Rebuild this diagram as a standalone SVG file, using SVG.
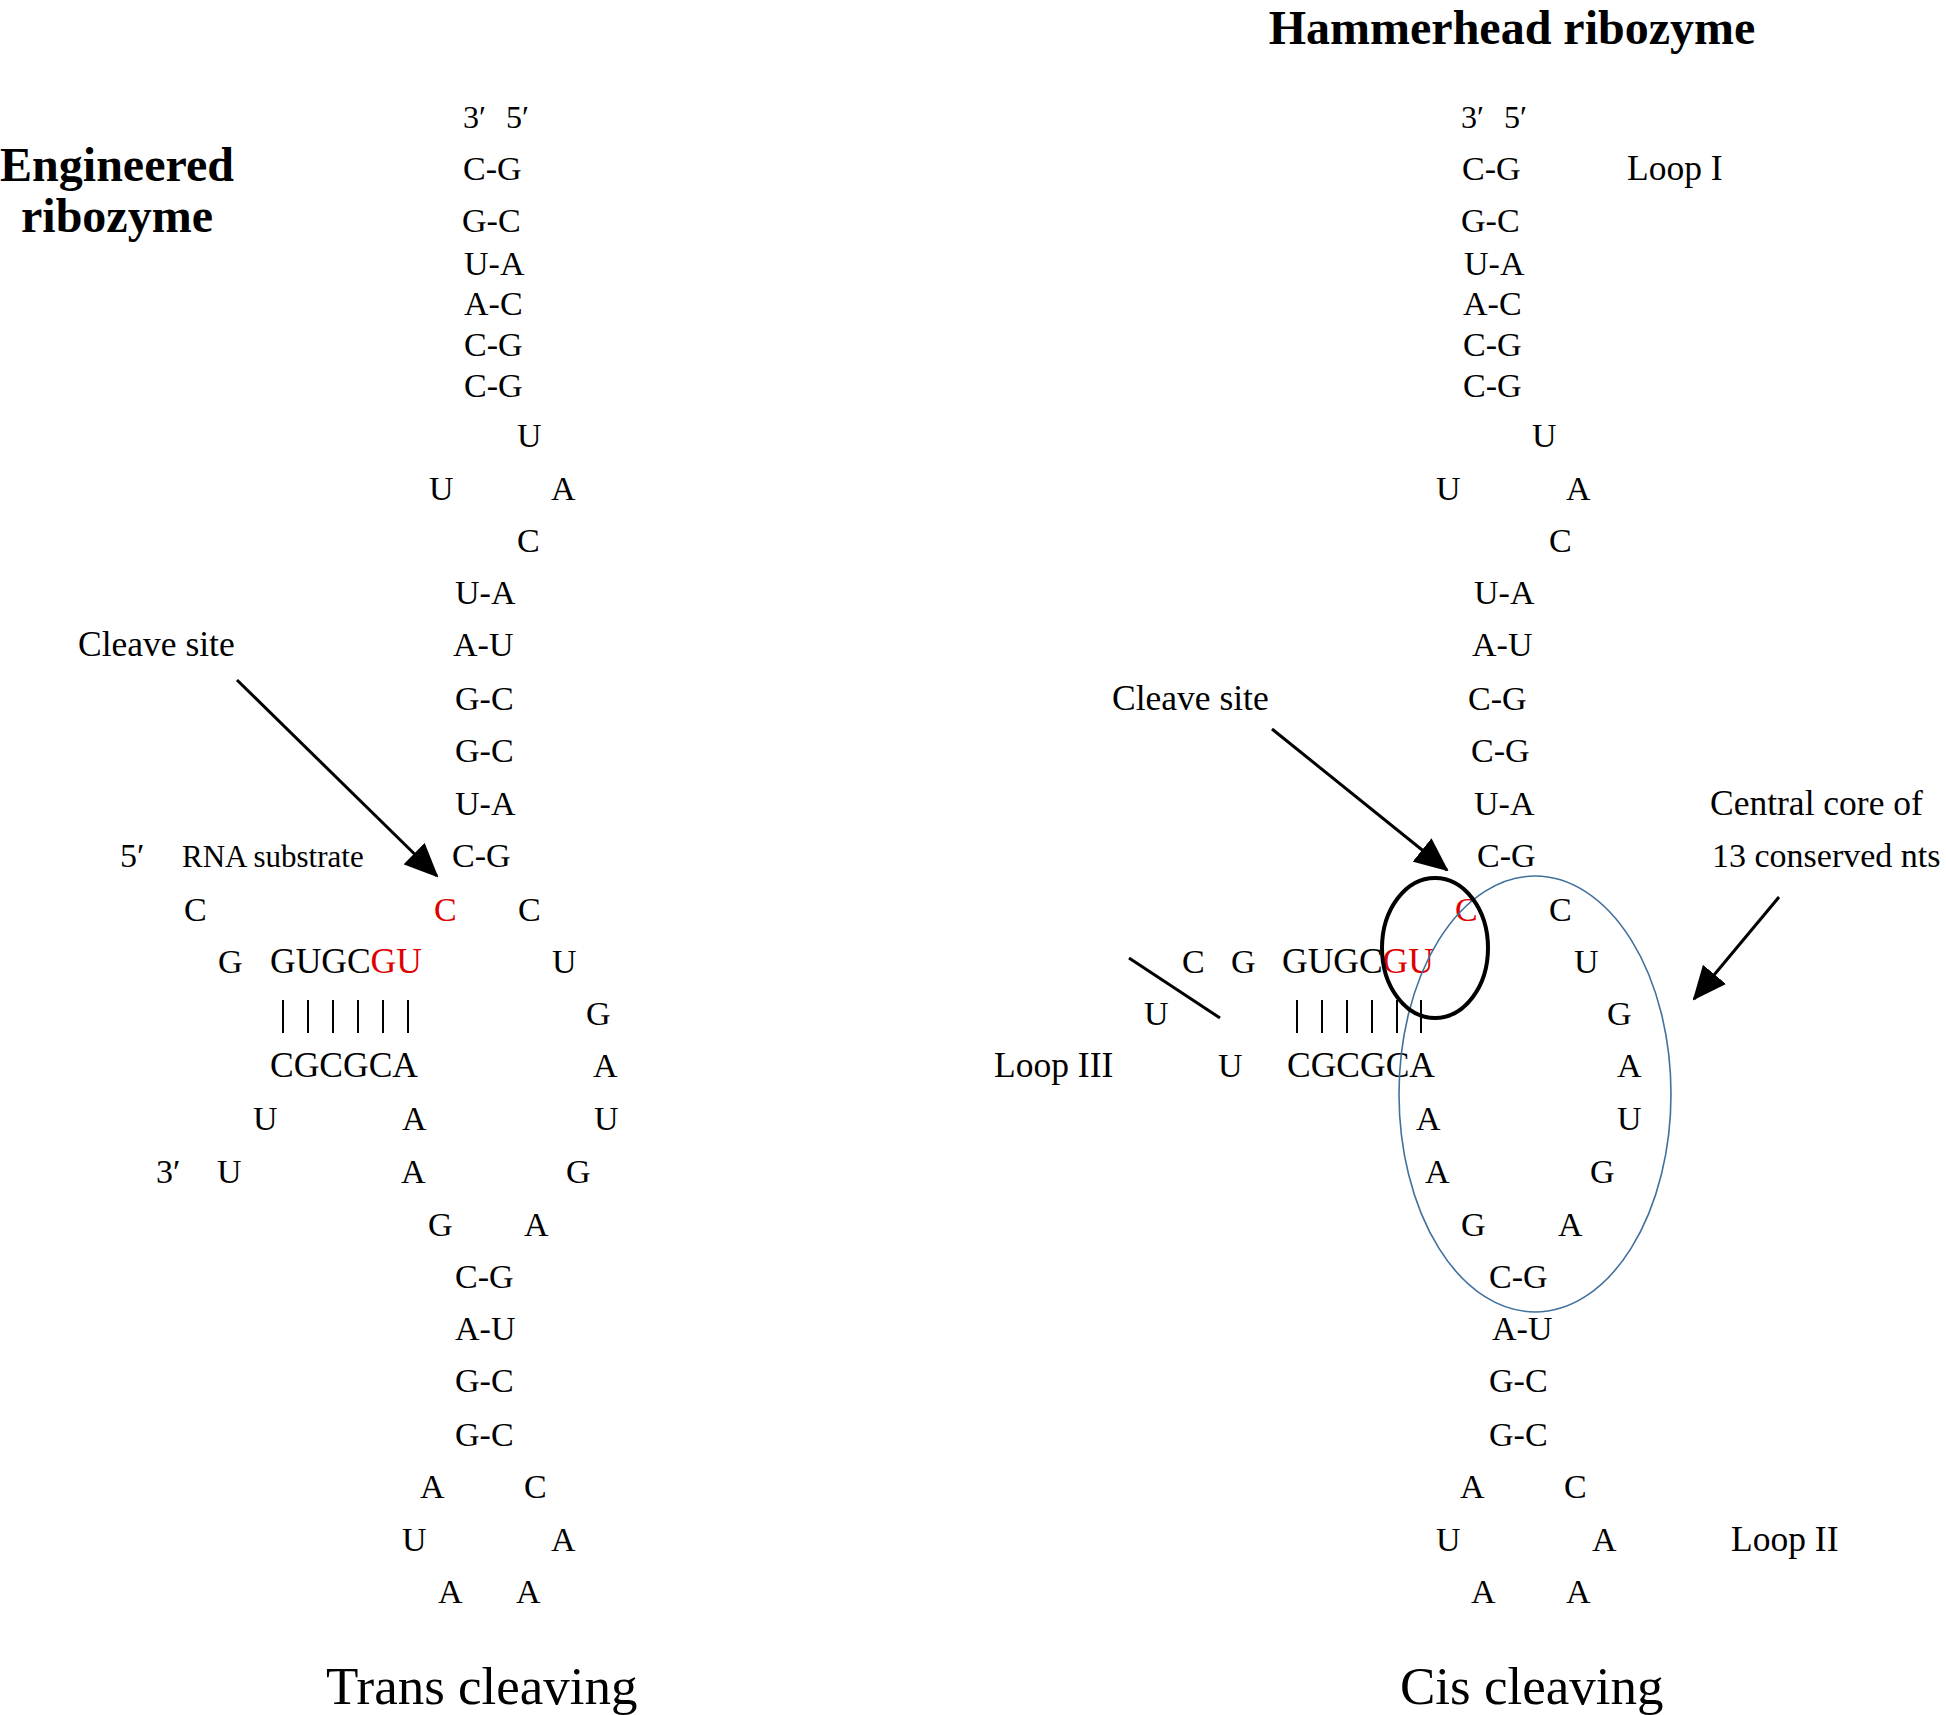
<svg xmlns="http://www.w3.org/2000/svg" width="1946" height="1715" viewBox="0 0 1946 1715">
<style>
text{font-family:"Liberation Serif","Times New Roman",serif;fill:#000}
.n{font-size:34px}
.q{font-size:35.5px}
.l{font-size:35.5px}
.p{font-size:32px}
.s{font-size:31px}
.r{fill:#e00000}
.t{font-size:48px;font-weight:bold}
.c{font-size:53px}
.ln{stroke:#000;stroke-width:3;fill:none}
.bp{stroke:#000;stroke-width:2}
</style>
<defs>
<marker id="ah" markerUnits="userSpaceOnUse" markerWidth="34" markerHeight="30" refX="32" refY="15" orient="auto">
<path d="M0,0 L34,15 L0,30 Z" fill="#000"/>
</marker>
</defs>
<rect width="1946" height="1715" fill="#fff"/>

<g id="title-left"><text class="t" x="117" y="181" text-anchor="middle">Engineered</text><text class="t" x="117" y="232" text-anchor="middle">ribozyme</text></g>
<g id="title-right"><text class="t" x="1512" y="44" text-anchor="middle">Hammerhead ribozyme</text></g>

<g id="trans">
<text class="p" x="463" y="128">3′</text>
<text class="p" x="506" y="128">5′</text>
<text class="n" x="463" y="180">C-G</text>
<text class="n" x="462" y="232">G-C</text>
<text class="n" x="464" y="275">U-A</text>
<text class="n" x="464" y="315">A-C</text>
<text class="n" x="464" y="356">C-G</text>
<text class="n" x="464" y="397">C-G</text>
<text class="n" x="517" y="447">U</text>
<text class="n" x="429" y="500">U</text>
<text class="n" x="551" y="500">A</text>
<text class="n" x="517" y="552">C</text>
<text class="n" x="455" y="604">U-A</text>
<text class="n" x="453" y="656">A-U</text>
<text class="n" x="455" y="710">G-C</text>
<text class="n" x="455" y="762">G-C</text>
<text class="n" x="455" y="815">U-A</text>
<text class="n" x="452" y="867">C-G</text>
<text class="l" x="78" y="656">Cleave site</text>
<text class="n" x="120" y="867">5′</text>
<text class="s" x="182" y="867">RNA substrate</text>
<text class="n" x="184" y="921">C</text>
<text class="n r" x="434" y="921">C</text>
<text class="n" x="518" y="921">C</text>
<text class="n" x="218" y="973">G</text>
<text class="q" x="270" y="973">GUGC<tspan class="r">GU</tspan></text>
<text class="n" x="552" y="973">U</text>
<text class="n" x="586" y="1025">G</text>
<text class="q" x="270" y="1077">CGCGCA</text>
<text class="n" x="593" y="1077">A</text>
<text class="n" x="253" y="1130">U</text>
<text class="n" x="402" y="1130">A</text>
<text class="n" x="594" y="1130">U</text>
<text class="n" x="156" y="1183">3′</text>
<text class="n" x="217" y="1183">U</text>
<text class="n" x="401" y="1183">A</text>
<text class="n" x="566" y="1183">G</text>
<text class="n" x="428" y="1236">G</text>
<text class="n" x="524" y="1236">A</text>
<text class="n" x="455" y="1288">C-G</text>
<text class="n" x="455" y="1340">A-U</text>
<text class="n" x="455" y="1392">G-C</text>
<text class="n" x="455" y="1446">G-C</text>
<text class="n" x="420" y="1498">A</text>
<text class="n" x="524" y="1498">C</text>
<text class="n" x="402" y="1551">U</text>
<text class="n" x="551" y="1551">A</text>
<text class="n" x="438" y="1603">A</text>
<text class="n" x="516" y="1603">A</text>
<text class="c" x="326" y="1704">Trans cleaving</text>
</g>

<g id="cis">
<text class="p" x="1461" y="128">3′</text>
<text class="p" x="1504" y="128">5′</text>
<text class="n" x="1462" y="180">C-G</text>
<text class="l" x="1627" y="180">Loop I</text>
<text class="n" x="1461" y="232">G-C</text>
<text class="n" x="1464" y="275">U-A</text>
<text class="n" x="1463" y="315">A-C</text>
<text class="n" x="1463" y="356">C-G</text>
<text class="n" x="1463" y="397">C-G</text>
<text class="n" x="1532" y="447">U</text>
<text class="n" x="1436" y="500">U</text>
<text class="n" x="1566" y="500">A</text>
<text class="n" x="1549" y="552">C</text>
<text class="n" x="1474" y="604">U-A</text>
<text class="n" x="1472" y="656">A-U</text>
<text class="n" x="1468" y="710">C-G</text>
<text class="n" x="1471" y="762">C-G</text>
<text class="n" x="1474" y="815">U-A</text>
<text class="n" x="1477" y="867">C-G</text>
<text class="l" x="1112" y="710">Cleave site</text>
<text class="l" x="1710" y="815">Central core of</text>
<text class="n" x="1712" y="867">13 conserved nts</text>
<text class="n r" x="1455" y="921">C</text>
<text class="n" x="1549" y="921">C</text>
<text class="n" x="1182" y="973">C</text>
<text class="n" x="1231" y="973">G</text>
<text class="q" x="1282" y="973">GUGC<tspan class="r">GU</tspan></text>
<text class="n" x="1574" y="973">U</text>
<text class="n" x="1144" y="1025">U</text>
<text class="n" x="1607" y="1025">G</text>
<text class="l" x="994" y="1077">Loop III</text>
<text class="n" x="1218" y="1077">U</text>
<text class="q" x="1287" y="1077">CGCGCA</text>
<text class="n" x="1617" y="1077">A</text>
<text class="n" x="1416" y="1130">A</text>
<text class="n" x="1617" y="1130">U</text>
<text class="n" x="1425" y="1183">A</text>
<text class="n" x="1590" y="1183">G</text>
<text class="n" x="1461" y="1236">G</text>
<text class="n" x="1558" y="1236">A</text>
<text class="n" x="1489" y="1288">C-G</text>
<text class="n" x="1492" y="1340">A-U</text>
<text class="n" x="1489" y="1392">G-C</text>
<text class="n" x="1489" y="1446">G-C</text>
<text class="n" x="1460" y="1498">A</text>
<text class="n" x="1564" y="1498">C</text>
<text class="n" x="1436" y="1551">U</text>
<text class="n" x="1592" y="1551">A</text>
<text class="l" x="1731" y="1551">Loop II</text>
<text class="n" x="1471" y="1603">A</text>
<text class="n" x="1566" y="1603">A</text>
<text class="c" x="1400" y="1704">Cis cleaving</text>
</g>

<g id="connectors">
<g id="pairs-left">
<line class="bp" x1="283" y1="1000" x2="283" y2="1033"/>
<line class="bp" x1="308" y1="1000" x2="308" y2="1033"/>
<line class="bp" x1="333" y1="1000" x2="333" y2="1033"/>
<line class="bp" x1="358" y1="1000" x2="358" y2="1033"/>
<line class="bp" x1="383" y1="1000" x2="383" y2="1033"/>
<line class="bp" x1="408" y1="1000" x2="408" y2="1033"/>
</g>
<g id="pairs-right">
<line class="bp" x1="1297" y1="1000" x2="1297" y2="1033"/>
<line class="bp" x1="1322" y1="1000" x2="1322" y2="1033"/>
<line class="bp" x1="1347" y1="1000" x2="1347" y2="1033"/>
<line class="bp" x1="1372" y1="1000" x2="1372" y2="1033"/>
<line class="bp" x1="1397" y1="1000" x2="1397" y2="1033"/>
<line class="bp" x1="1421" y1="1000" x2="1421" y2="1033"/>
</g>
<line class="ln" x1="237" y1="680" x2="437" y2="876" marker-end="url(#ah)"/>
<line class="ln" x1="1272" y1="729" x2="1447" y2="870" marker-end="url(#ah)"/>
<line class="ln" x1="1779" y1="897" x2="1694" y2="999" marker-end="url(#ah)"/>
<line class="ln" x1="1129" y1="958" x2="1220" y2="1018"/>
<ellipse cx="1535" cy="1094" rx="136" ry="218" fill="none" stroke="#41719c" stroke-width="1.6"/>
<ellipse cx="1435" cy="948" rx="53" ry="70" fill="none" stroke="#000" stroke-width="4"/>
</g>
</svg>
